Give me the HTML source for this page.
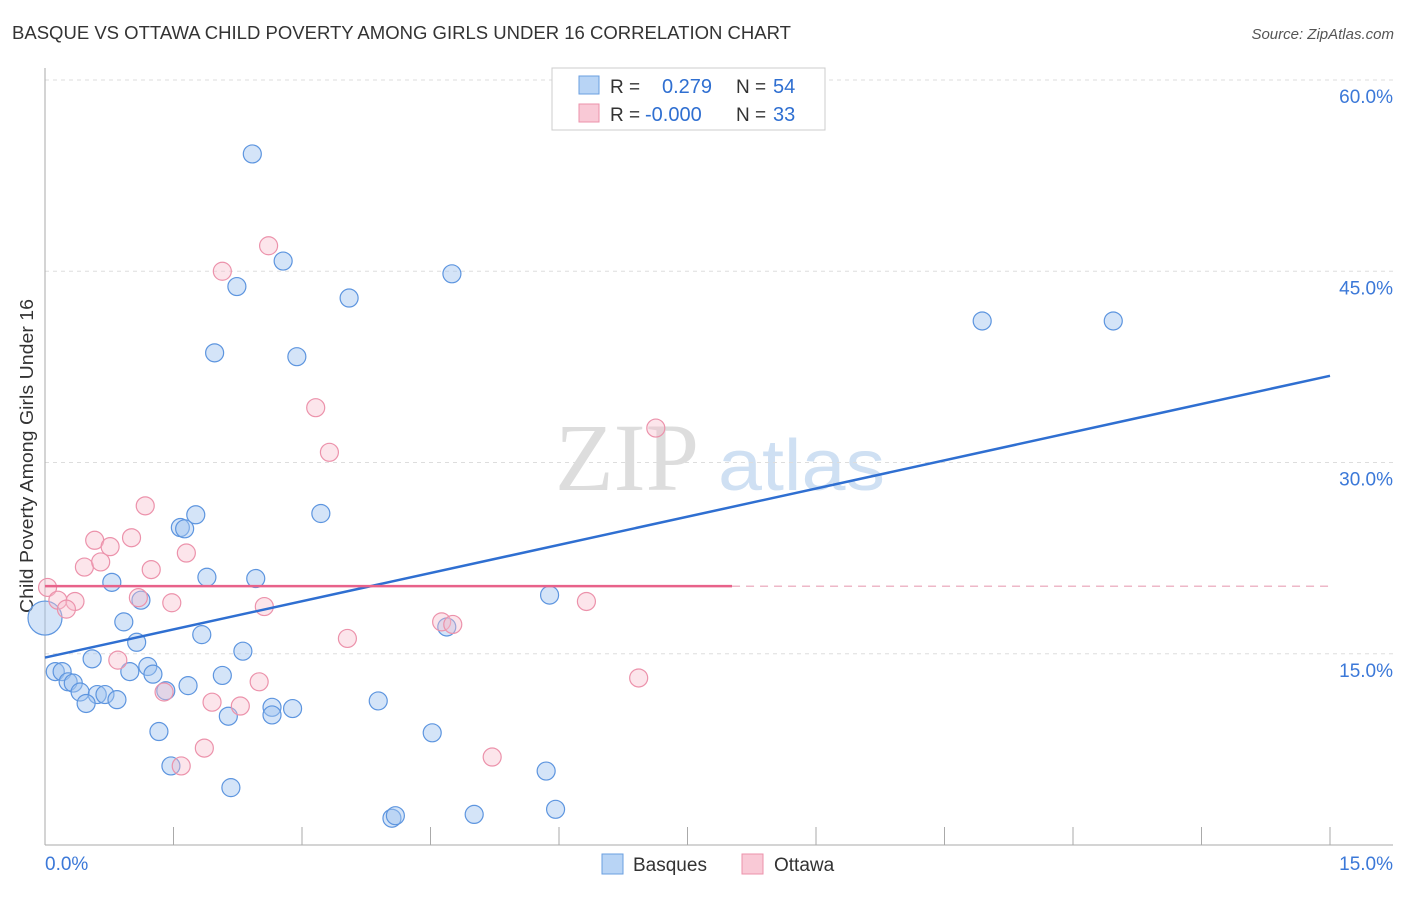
<!DOCTYPE html>
<html><head><meta charset="utf-8"><style>
body{margin:0;background:#fff;font-family:"Liberation Sans",sans-serif;}
</style></head><body>
<svg id="chart" width="1406" height="892" xmlns="http://www.w3.org/2000/svg" style="font-family:'Liberation Sans',sans-serif">
<text x="12" y="39" font-size="18" fill="#333" textLength="779" lengthAdjust="spacingAndGlyphs">BASQUE VS OTTAWA CHILD POVERTY AMONG GIRLS UNDER 16 CORRELATION CHART</text>
<text x="1394" y="39" font-size="15" fill="#555" text-anchor="end" font-style="italic">Source: ZipAtlas.com</text>
<text x="555" y="490" font-size="96" fill="#ddd" font-family="Liberation Serif">ZIP</text>
<text x="718" y="490" font-size="72" fill="#cfe0f3" textLength="167" lengthAdjust="spacingAndGlyphs">atlas</text>
<text transform="translate(33,456) rotate(-90)" font-size="18" fill="#333" text-anchor="middle" textLength="314" lengthAdjust="spacingAndGlyphs">Child Poverty Among Girls Under 16</text>
<g id="grid"></g><g id="pts"></g><g id="lines"></g>
<g>
<rect x="552" y="68" width="273" height="62" fill="#fff" stroke="#ccc"/>
<rect x="579" y="76" width="20" height="18" fill="#b8d4f5" stroke="#6a9fe0"/>
<rect x="579" y="104" width="20" height="18" fill="#f9c9d6" stroke="#ec92ab"/>
<text x="610" y="93" font-size="19" fill="#333">R =</text><text x="662" y="93" font-size="20" fill="#2f6fd1">0.279</text>
<text x="736" y="93" font-size="19" fill="#333">N =</text><text x="773" y="93" font-size="20" fill="#2f6fd1">54</text>
<text x="610" y="121" font-size="19" fill="#333">R =</text><text x="645" y="121" font-size="20" fill="#2f6fd1">-0.000</text>
<text x="736" y="121" font-size="19" fill="#333">N =</text><text x="773" y="121" font-size="20" fill="#2f6fd1">33</text>
</g>
<g>
<rect x="602" y="854" width="21" height="20" fill="#b8d4f5" stroke="#6a9fe0"/><text x="633" y="871" font-size="19" fill="#333">Basques</text>
<rect x="742" y="854" width="21" height="20" fill="#f9c9d6" stroke="#ec92ab"/><text x="774" y="871" font-size="19" fill="#333">Ottawa</text>
</g>
</svg>
<script>
const yTicks=[15,30,45,60];
const xTickLabels=["0.0%","15.0%"];
const blueX=[2.42,2.78,2.24,3.55,4.75,1.98,2.94,10.94,12.47,3.22,1.76,1.58,1.63,1.89,2.46,0.78,1.12,5.89,0.92,4.69,1.07,1.83,2.31,0.0,0.55,1.20,0.99,1.26,0.12,0.20,0.27,0.33,0.41,0.61,0.70,0.84,0.48,1.41,1.67,2.07,2.14,2.65,2.65,2.89,3.89,1.33,4.52,1.47,2.17,5.85,4.05,4.09,5.01,5.96];
const blueY=[54.2,45.8,43.8,42.9,44.8,38.6,38.3,41.1,41.1,26.0,25.9,24.9,24.8,21.0,20.9,20.6,19.2,19.6,17.5,17.1,15.9,16.5,15.2,17.8,14.6,14.0,13.6,13.4,13.6,13.6,12.8,12.7,12.0,11.8,11.8,11.4,11.1,12.1,12.5,13.3,10.1,10.8,10.2,10.7,11.3,8.9,8.8,6.2,4.5,5.8,2.1,2.3,2.4,2.8];
const pinkX=[0.03,1.17,0.58,1.01,0.76,1.65,0.46,0.65,1.24,0.15,0.35,0.25,1.09,1.48,2.56,6.32,2.07,2.61,3.16,3.32,7.13,3.53,4.63,4.76,0.85,2.50,6.93,1.39,1.95,2.28,1.86,1.59,5.22];
const pinkY=[20.2,26.6,23.9,24.1,23.4,22.9,21.8,22.2,21.6,19.2,19.1,18.5,19.4,19.0,18.7,19.1,45.0,47.0,34.3,30.8,32.7,16.2,17.5,17.3,14.5,12.8,13.1,12.0,11.2,10.9,7.6,6.2,6.9];
const blueTrend=[14.7,36.8];
const pinkTrend=20.3, pinkSolidEnd=8.02;
const NS="http://www.w3.org/2000/svg";
const X=v=>45+v/15*1285, Y=v=>845-v/60*765;
function mk(p,t,a){const e=document.createElementNS(NS,t);for(const k in a)e.setAttribute(k,a[k]);p.appendChild(e);return e;}
const g=document.getElementById('grid');
yTicks.forEach(t=>{
 const l=mk(g,'line',{x1:45,x2:1393,y1:Y(t),y2:Y(t),stroke:'#ddd','stroke-dasharray':'4,4'});
 
 
 const tx=mk(g,'text',{x:1393,y:Y(t)+23,'font-size':19,fill:'#3b78d8','text-anchor':'end'});tx.textContent=t.toFixed(1)+'%';
 
 
});
const ax=mk(g,'line',{x1:45,x2:45,y1:68,y2:845,stroke:'#aaa'});


const bx=mk(g,'line',{x1:45,x2:1393,y1:845,y2:845,stroke:'#aaa'});


for(let i=1;i<=10;i++){const t=mk(g,'line',{x1:X(i*1.5),x2:X(i*1.5),y1:827,y2:845,stroke:'#aaa'});
 
 }
const l0=mk(g,'text',{x:45,y:870,'font-size':19,fill:'#3b78d8'});l0.textContent=xTickLabels[0];


const l1=mk(g,'text',{x:1393,y:870,'font-size':19,fill:'#3b78d8','text-anchor':'end'});l1.textContent=xTickLabels[1];


const P=document.getElementById('pts');
blueX.forEach((x,i)=>{const c=mk(P,'circle',{cx:X(x),cy:Y(blueY[i]),r:(x===0?17:9),fill:'rgba(160,196,240,0.45)',stroke:'#5d95df','stroke-width':1.2});
 
 });
pinkX.forEach((x,i)=>{const c=mk(P,'circle',{cx:X(x),cy:Y(pinkY[i]),r:9,fill:'rgba(248,190,205,0.4)',stroke:'#ec92ab','stroke-width':1.2});
 
 });
const L=document.getElementById('lines');
const bl=mk(L,'line',{x1:X(0),y1:Y(blueTrend[0]),x2:X(15),y2:Y(blueTrend[1]),stroke:'#2f6fd1','stroke-width':2.5});


const pl=mk(L,'line',{x1:X(0),y1:Y(pinkTrend),x2:X(pinkSolidEnd),y2:Y(pinkTrend),stroke:'#e8628a','stroke-width':2.5});


const pd=mk(L,'line',{x1:X(pinkSolidEnd),y1:Y(pinkTrend),x2:X(15),y2:Y(pinkTrend),stroke:'#e8a0b5','stroke-width':1.2,'stroke-dasharray':'8,6'});


</script>
</body></html>
